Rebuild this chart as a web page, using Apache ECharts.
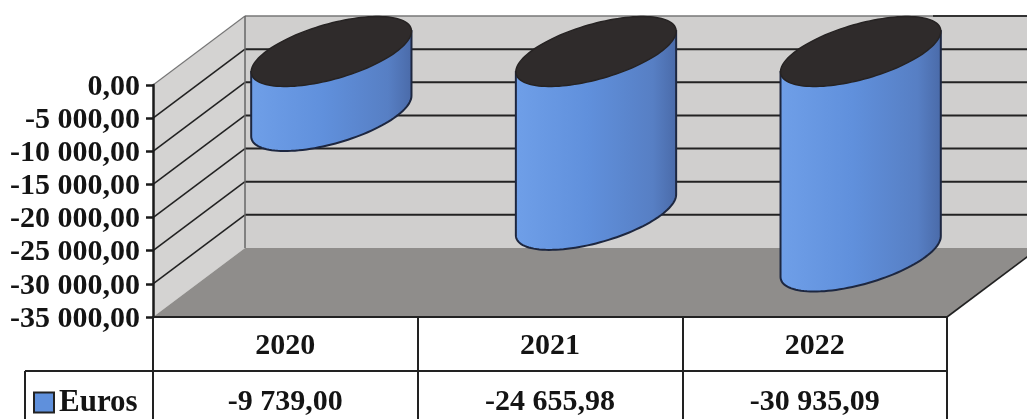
<!DOCTYPE html>
<html><head><meta charset="utf-8">
<style>html,body{margin:0;padding:0;background:#fff}#c{width:1027px;height:419px}</style>
<script src="https://cdn.jsdelivr.net/npm/echarts@6/dist/echarts.min.js"></script>
</head><body><div id="c"></div>
<script>
const categories = ['2020', '2021', '2022'];
const euros = [-9739.00, -24655.98, -30935.09];
const yTicks = [0, -5000, -10000, -15000, -20000, -25000, -30000, -35000];
const seriesName = 'Euros';

const FONT = '"Liberation Serif", serif';
const INK = '#141414';
const DEPTH_X = 92, DEPTH_Y = -69;       // full depth of the 3D box
const ROW_Y = 402;                       // data-table value row

function fmt(v) {
  const s = Math.abs(v).toFixed(2).split('.');
  const int = s[0].replace(/\B(?=(\d{3})+$)/g, ' ');
  return (v < 0 ? '-' : '') + int + ',' + s[1];
}
const line = (x1, y1, x2, y2, stroke, lw) => ({
  type: 'line', shape: {x1, y1, x2, y2}, style: {stroke, lineWidth: lw}, silent: true
});

function renderBox(params, api) {
  const g = params.coordSys;
  const x0 = g.x, x1 = g.x + g.width, right = x1 + DEPTH_X;
  const y0 = api.coord([0, 0])[1], yB = api.coord([0, -35000])[1];
  const ch = [];
  // back wall
  ch.push({type: 'polygon', shape: {points: [[x0 + DEPTH_X, y0 + DEPTH_Y], [right, y0 + DEPTH_Y], [right, yB + DEPTH_Y], [x0 + DEPTH_X, yB + DEPTH_Y]]},
    style: {fill: '#d0cfce'}});
  // side wall
  ch.push({type: 'polygon', shape: {points: [[x0, y0], [x0 + DEPTH_X, y0 + DEPTH_Y], [x0 + DEPTH_X, yB + DEPTH_Y], [x0, yB]]},
    style: {fill: '#d4d3d2'}});
  // floor
  ch.push({type: 'polygon', shape: {points: [[x0, yB], [x0 + DEPTH_X, yB + DEPTH_Y], [right, yB + DEPTH_Y], [x1, yB]]},
    style: {fill: '#8f8d8b'}});
  // grid lines
  yTicks.forEach((t, i) => {
    const y = api.coord([0, t])[1];
    if (i === yTicks.length - 1) return;
    const top = i === 0;
    const col = top ? '#777' : '#222';
    const lw = top ? 1.5 : 2;
    ch.push(line(x0, y, x0 + DEPTH_X, y + DEPTH_Y, col, top ? 1.2 : 1.6));
    ch.push(line(x0 + DEPTH_X, y + DEPTH_Y, right, y + DEPTH_Y, col, lw));
  });
  ch.push(line(x1 - 14, y0 + DEPTH_Y, right, y0 + DEPTH_Y, '#333', 2));
  ch.push(line(x0 + DEPTH_X, y0 + DEPTH_Y, x0 + DEPTH_X, yB + DEPTH_Y, '#666', 1.5));
  ch.push(line(x1, yB, right, yB + DEPTH_Y, '#222', 1.6));
  // data table frame
  ch.push(line(25, 371, x1, 371, '#222', 2));
  ch.push(line(25, 371, 25, 419, '#222', 2));
  return {type: 'group', children: ch};
}

function renderCylinder(params, api) {
  const idx = api.value(0), val = api.value(1);
  const top = api.coord([idx, 0]), bot = api.coord([idx, val]);
  const ox = DEPTH_X / 2, oy = DEPTH_Y / 2 + 1;
  const cx = top[0] + ox, cyT = top[1] + oy, cyB = bot[1] + oy;
  const a = 83, b = 27.5, th = -16 * Math.PI / 180;
  const c = Math.cos(th), s = Math.sin(th);
  const pt = (t, cy) => [cx + a * Math.cos(t) * c - b * Math.sin(t) * s,
                         cy + a * Math.cos(t) * s + b * Math.sin(t) * c];
  const t0 = Math.atan2(-b * s, a * c);   // angle of the rightmost point
  const body = [], N = 60;
  body.push(pt(t0 + Math.PI, cyT));
  for (let i = 0; i <= N; i++) body.push(pt(t0 + Math.PI - Math.PI * i / N, cyB));
  body.push(pt(t0, cyT));
  const cap = [];
  for (let i = 0; i < 2 * N; i++) cap.push(pt(Math.PI * i / N, cyT));
  return {type: 'group', children: [
    {type: 'polygon', shape: {points: body}, style: {
      fill: {type: 'linear', x: 0, y: 0, x2: 1, y2: 0, colorStops: [
        {offset: 0, color: '#6f9fe8'}, {offset: 0.45, color: '#6090dc'},
        {offset: 0.85, color: '#577fc4'}, {offset: 1, color: '#4a6aa8'}]},
      stroke: '#1d2740', lineWidth: 2}},
    {type: 'polygon', shape: {points: cap}, style: {fill: '#2f2b2b', stroke: '#262323', lineWidth: 1.5}},
    {type: 'text', x: top[0], y: ROW_Y, style: {text: fmt(val), fill: INK,
      font: 'bold 30px ' + FONT, align: 'center', verticalAlign: 'middle'}}
  ]};
}

const chart = echarts.init(document.getElementById('c'), null, {renderer: 'canvas'});
chart.setOption({
  animation: false,
  backgroundColor: '#fff',
  grid: {left: 153, top: 85, width: 794, height: 232, containLabel: false},
  legend: {
    data: [seriesName], left: 33, top: 387, padding: 0, itemWidth: 20, itemHeight: 20,
    icon: 'rect', selectedMode: false,
    itemStyle: {borderColor: '#222', borderWidth: 2},
    textStyle: {fontFamily: FONT, fontWeight: 'bold', fontSize: 31, color: INK, padding: [8, 0, 0, 0]}
  },
  xAxis: {
    type: 'category', data: categories, position: 'bottom', z: 5,
    axisLine: {onZero: false, lineStyle: {color: '#222', width: 2}},
    axisTick: {show: true, alignWithLabel: false, length: 102, lineStyle: {color: '#222', width: 2}},
    axisLabel: {margin: 14, fontFamily: FONT, fontWeight: 'bold', fontSize: 30, color: INK},
    splitLine: {show: false}
  },
  yAxis: {
    type: 'value', min: -35000, max: 0, interval: 5000, z: 5,
    axisLine: {show: true, onZero: false, lineStyle: {color: '#1a1a1a', width: 2.5}},
    axisTick: {show: true, length: 7, lineStyle: {color: '#1a1a1a', width: 2.5}},
    axisLabel: {margin: 13, fontFamily: FONT, fontWeight: 'bold', fontSize: 30, color: INK,
      verticalAlign: 'top', lineHeight: 4, formatter: v => fmt(v)},
    splitLine: {show: false}
  },
  series: [
    {type: 'custom', name: 'box', data: [[0, 0]], renderItem: renderBox, z: 1, silent: true, clip: false,
     encode: {x: 0, y: 1}},
    {type: 'custom', name: seriesName, data: euros.map((v, i) => [i, v]), renderItem: renderCylinder, z: 2, clip: false,
     itemStyle: {color: '#5f90dc'}, encode: {x: 0, y: 1}}
  ]
});
</script></body></html>
